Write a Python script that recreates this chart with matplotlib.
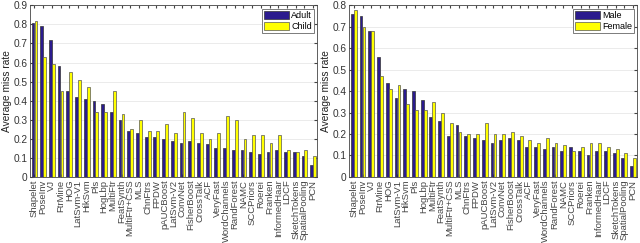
import numpy as np
import matplotlib.pyplot as plt

plt.rcParams['font.family'] = ['Liberation Sans', 'DejaVu Sans']

methods = ['Shapelet', 'PoseInv', 'VJ', 'FtrMine', 'HOG', 'LatSvm-V1', 'HikSvm',
           'Pls', 'HogLbp', 'MultiFtr', 'FeatSynth', 'MultiFtr+CSS', 'MLS',
           'ChnFtrs', 'FPDW', 'pAUCBoost', 'LatSvm-V2', 'ConvNet', 'FisherBoost',
           'CrossTalk', 'ACF', 'VeryFast', 'WordChannels', 'RandForest', 'NAMC',
           'SCCPriors', 'Roerei', 'Franken', 'InformedHaar', 'LDCF',
           'SketchTokens', 'SpatialPooling', 'PCN']

adult = [0.81, 0.79, 0.72, 0.58, 0.45, 0.42, 0.41, 0.40, 0.38, 0.34, 0.30,
         0.24, 0.23, 0.21, 0.21, 0.20, 0.19, 0.18, 0.19, 0.18, 0.17, 0.15,
         0.15, 0.14, 0.14, 0.13, 0.12, 0.13, 0.14, 0.13, 0.13, 0.11, 0.06]
child = [0.82, 0.63, 0.59, 0.45, 0.55, 0.51, 0.47, 0.34, 0.34, 0.45, 0.33,
         0.25, 0.30, 0.24, 0.24, 0.28, 0.23, 0.34, 0.31, 0.23, 0.20, 0.23,
         0.32, 0.30, 0.20, 0.22, 0.22, 0.18, 0.22, 0.14, 0.13, 0.14, 0.11]

male = [0.76, 0.75, 0.68, 0.56, 0.44, 0.37, 0.41, 0.40, 0.36, 0.28, 0.26,
        0.19, 0.24, 0.19, 0.18, 0.17, 0.16, 0.17, 0.18, 0.17, 0.14, 0.14,
        0.13, 0.14, 0.12, 0.14, 0.12, 0.10, 0.12, 0.12, 0.11, 0.09, 0.05]
female = [0.78, 0.70, 0.68, 0.47, 0.41, 0.43, 0.34, 0.31, 0.31, 0.35, 0.30,
          0.25, 0.21, 0.20, 0.20, 0.25, 0.20, 0.20, 0.21, 0.19, 0.17, 0.16,
          0.18, 0.16, 0.15, 0.12, 0.14, 0.16, 0.16, 0.14, 0.13, 0.11, 0.09]

blue = '#2b1b8e'
yellow = '#ffff00'

fig = plt.figure(figsize=(6.4, 2.43), dpi=100)
ax1 = fig.add_axes([0.047, 0.272, 0.449, 0.706])
ax2 = fig.add_axes([0.546, 0.272, 0.45, 0.706])


def panel(ax, a, b, names, ymax):
    x = np.arange(1, len(methods) + 1)
    w = 0.32
    ax.bar(x - 0.17, a, w, color=blue, edgecolor='#333333', linewidth=0.5,
           label=names[0], zorder=3)
    ax.bar(x + 0.17, b, w, color=yellow, edgecolor='#555555', linewidth=0.5,
           label=names[1], zorder=3)
    ax.set_xlim(0.5, len(methods) + 0.5)
    ax.set_ylim(0, ymax)
    yt = np.round(np.arange(0, ymax + 0.01, 0.1), 1)
    ax.set_yticks(yt)
    ax.set_yticklabels(['%g' % v for v in yt])
    ax.set_xticks(x)
    ax.set_xticklabels(methods, rotation=90, fontsize=6.8, color='#222222')
    ax.tick_params(axis='y', labelsize=7.3, direction='in', right=True, length=2,
                   pad=2, colors='#444444', labelcolor='#333333')
    ax.tick_params(axis='x', direction='in', top=True, length=2, pad=2,
                   colors='#444444')
    ax.grid(axis='y', color='#ebebeb', linewidth=0.7, zorder=0)
    ax.set_ylabel('Average miss rate', fontsize=7.3, labelpad=1, color='#222222')
    for s in ax.spines.values():
        s.set_color('#444444')
        s.set_linewidth(0.6)
    leg = ax.legend(loc='upper right', fontsize=6.5, fancybox=False,
                    framealpha=1, edgecolor='#666666', handlelength=2.8,
                    handleheight=1.1, borderpad=0.2, labelspacing=0.15,
                    handletextpad=0.2, borderaxespad=0.4)
    leg.get_frame().set_linewidth(0.6)


panel(ax1, adult, child, ['Adult', 'Child'], 0.9)
panel(ax2, male, female, ['Male', 'Female'], 0.8)

fig.savefig('out.png', dpi=100)
